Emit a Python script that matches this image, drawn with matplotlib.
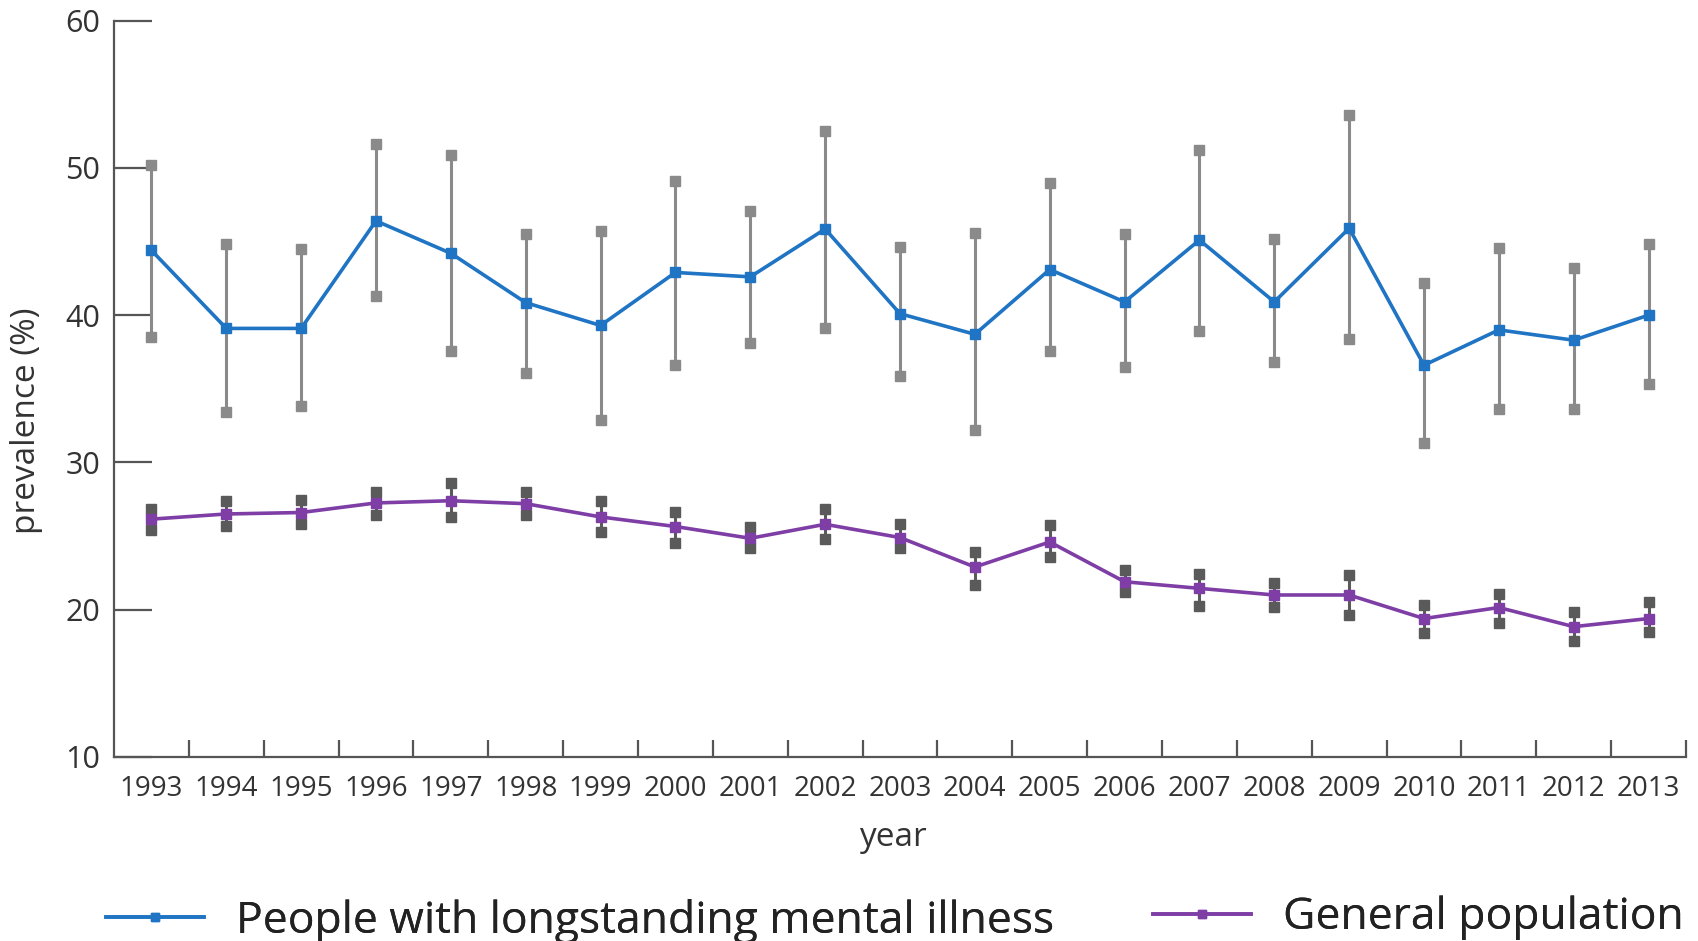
import numpy as np
import matplotlib
matplotlib.use("Agg")
import matplotlib.pyplot as plt
import matplotlib.font_manager as fm
from matplotlib.lines import Line2D

# ---------------- data ----------------
years = [1993, 1994, 1995, 1996, 1997, 1998, 1999, 2000, 2001, 2002, 2003,
         2004, 2005, 2006, 2007, 2008, 2009, 2010, 2011, 2012, 2013]

mental_illness = [44.4, 39.1, 39.1, 46.4, 44.2, 40.85, 39.3, 42.9, 42.6, 45.85, 40.1,
                  38.7, 43.1, 40.9, 45.1, 40.9, 45.9, 36.6, 39.0, 38.3, 40.0]
mental_upper = [50.2, 44.8, 44.5, 51.6, 50.9, 45.5, 45.7, 49.1, 47.1, 52.5, 44.65,
                45.6, 49.0, 45.5, 51.2, 45.15, 53.6, 42.2, 44.55, 43.2, 44.8]
mental_lower = [38.55, 33.4, 33.8, 41.3, 37.6, 36.1, 32.85, 36.6, 38.1, 39.1, 35.9,
                32.2, 37.55, 36.5, 38.9, 36.85, 38.4, 31.3, 33.6, 33.6, 35.3]

general = [26.15, 26.5, 26.6, 27.25, 27.4, 27.2, 26.3, 25.65, 24.85, 25.8, 24.9,
           22.9, 24.6, 21.9, 21.45, 21.0, 21.0, 19.4, 20.15, 18.85, 19.4]
general_upper = [26.85, 27.35, 27.45, 28.0, 28.6, 28.0, 27.35, 26.65, 25.6, 26.85, 25.8,
                 23.95, 25.75, 22.7, 22.45, 21.8, 22.35, 20.3, 21.05, 19.85, 20.5]
general_lower = [25.4, 25.7, 25.8, 26.4, 26.3, 26.4, 25.3, 24.55, 24.2, 24.8, 24.2,
                 21.7, 23.6, 21.2, 20.25, 20.2, 19.65, 18.4, 19.1, 17.9, 18.5]

y_ticks = [10, 20, 30, 40, 50, 60]
series_labels = ["People with longstanding mental illness", "General population"]
x_label = "year"
y_label = "prevalence (%)"

# ---------------- font ----------------
avail = {f.name for f in fm.fontManager.ttflist}
font = "DejaVu Sans"
for cand in ["Liberation Sans Narrow", "Open Sans", "Lato", "Noto Sans"]:
    if cand in avail:
        font = cand
        break
plt.rcParams["font.family"] = [font, "DejaVu Sans"]

BLUE = "#1f74c4"
PURPLE = "#7e3ea6"
GRAY = "#8a8a8a"
DARKGRAY = "#5a5a5a"
TXT = "#333333"
SPINE = "#555555"

W, H = 1698, 941
fig = plt.figure(figsize=(W / 100, H / 100), dpi=100)
ax = fig.add_axes([114 / W, 1 - 757 / H, (1686 - 114) / W, (757 - 20.6) / H])

x = np.array(years, dtype=float)

# mental illness series
ax.vlines(x, mental_lower, mental_upper, color=GRAY, lw=2.2, zorder=2)
ax.plot(x, mental_upper, ls="none", marker="s", ms=7.5, color=GRAY, zorder=3)
ax.plot(x, mental_lower, ls="none", marker="s", ms=7.5, color=GRAY, zorder=3)
ax.plot(x, mental_illness, "-s", color=BLUE, lw=2.6, ms=7.5, zorder=5)

# general population series
ax.vlines(x, general_lower, general_upper, color=DARKGRAY, lw=2.2, zorder=2)
ax.plot(x, general_upper, ls="none", marker="s", ms=7.5, color=DARKGRAY, zorder=3)
ax.plot(x, general_lower, ls="none", marker="s", ms=7.5, color=DARKGRAY, zorder=3)
ax.plot(x, general, "-s", color=PURPLE, lw=2.6, ms=7.5, zorder=5)

ax.set_xlim(years[0] - 0.5, years[-1] + 0.5)
ax.set_ylim(10, 60)

for s in ["top", "right"]:
    ax.spines[s].set_visible(False)
for s in ["left", "bottom"]:
    ax.spines[s].set_color(SPINE)
    ax.spines[s].set_linewidth(1.6)

ax.set_yticks(y_ticks)
ax.set_yticklabels([str(v) for v in y_ticks])
ax.tick_params(axis="y", direction="in", length=27, width=1.6, color=SPINE,
               pad=10, labelsize=22, labelcolor=TXT)

# boundaries as major ticks, year labels as minor ticks
bounds = [y + 0.5 for y in years[:-1]] + [years[-1] + 0.5]
ax.set_xticks(bounds)
ax.set_xticklabels([])
ax.set_xticks(x, minor=True)
ax.set_xticklabels([str(y) for y in years], minor=True)
ax.tick_params(axis="x", which="major", direction="in", length=12, width=1.6, color=SPINE)
ax.tick_params(axis="x", which="minor", length=0, pad=13, labelsize=20, labelcolor=TXT)

fig.text(893 / W, 1 - 837 / H, x_label, ha="center", va="center", fontsize=24, color=TXT)
fig.text(27 / W, 1 - 421 / H, y_label, ha="center", va="center", rotation=90,
         fontsize=24, color=TXT)

# legends
h1 = Line2D([0], [0], color=BLUE, lw=2.6, marker="s", ms=6)
h2 = Line2D([0], [0], color=PURPLE, lw=2.6, marker="s", ms=6)
leg_fs = 32
for h, lab, x0, y0 in [(h1, series_labels[0], 106, 921), (h2, series_labels[1], 1153, 918)]:
    lg = fig.legend([h], [lab], loc="center left", bbox_to_anchor=(x0 / W, 1 - y0 / H),
                    frameon=False, fontsize=leg_fs, handlelength=98 / (leg_fs * 100 / 72),
                    handletextpad=32 / (leg_fs * 100 / 72), borderpad=0, borderaxespad=0,
                    numpoints=1)
    for t in lg.get_texts():
        t.set_color("#222222")
    fig.add_artist(lg)

fig.savefig("out.png", dpi=100)
